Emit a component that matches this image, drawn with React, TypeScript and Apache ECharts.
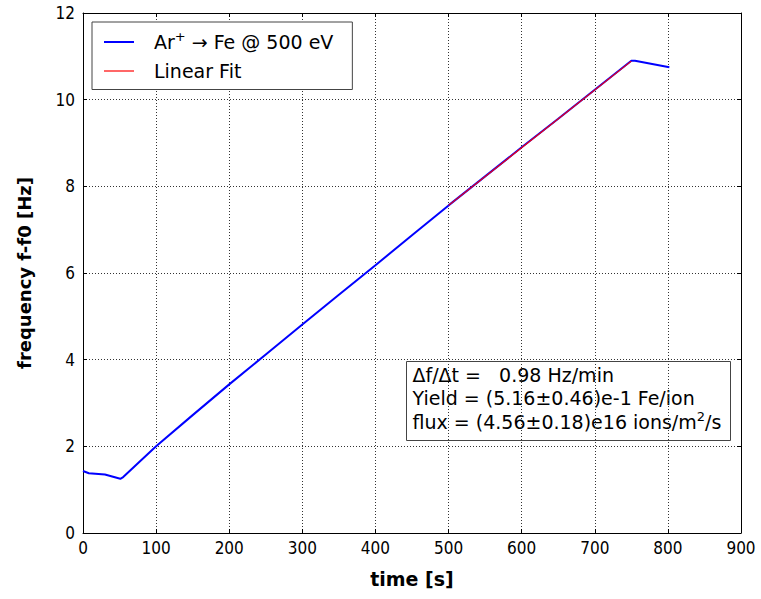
import React, { useEffect, useRef } from "react";
import * as echarts from "echarts";

const measuredTime = [0, 8, 30, 51, 55, 100, 150, 200, 250, 300, 350, 400, 450, 500, 550, 600, 650, 700, 750, 755, 802];
const measuredFreq = [1.43, 1.38, 1.35, 1.25, 1.29, 2.0, 2.72, 3.43, 4.12, 4.81, 5.5, 6.18, 6.87, 7.56, 8.23, 8.9, 9.56, 10.23, 10.9, 10.9, 10.75];
const fitTime = [500, 750];
const fitFreq = [7.56, 10.89];
const xTicks = { min: 0, max: 900, interval: 100 };
const yTicks = { min: 0, max: 12, interval: 2 };
const seriesNames = ["Ar+ → Fe @ 500 eV", "Linear Fit"];
const annotationLines = ["Δf/Δt =   0.98 Hz/min", "Yield = (5.16±0.46)e-1 Fe/ion", "flux = (4.56±0.18)e16 ions/m"];

const FONT = "'DejaVu Sans', Verdana, sans-serif";
const TICKFONT = "'DejaVu Sans Condensed', 'DejaVu Sans', sans-serif";

export default function App() {
  const ref = useRef<HTMLDivElement>(null);
  useEffect(() => {
    if (!ref.current) return;
    const chart = echarts.init(ref.current, null, { renderer: "svg" });
    const grid = "#444";
    const splitLine = { show: true, lineStyle: { color: "#333", type: [1, 2], width: 1 } };
    const tickLabel = { color: "#000", fontFamily: TICKFONT, fontSize: 17 };
    chart.setOption({
      animation: false,
      backgroundColor: "#fff",
      grid: { left: 83, right: 20, top: 13, bottom: 66, containLabel: false },
      xAxis: [
        {
          type: "value", ...xTicks,
          name: "time [s]", nameLocation: "middle", nameGap: 36,
          nameTextStyle: { fontFamily: FONT, fontWeight: "bold", fontSize: 19, color: "#000" },
          axisLine: { show: true, lineStyle: { color: "#000", width: 1 } },
          axisTick: { show: true, inside: true, length: 4, lineStyle: { color: "#000" } },
          axisLabel: { ...tickLabel, margin: 6 },
          splitLine,
        },
        {
          type: "value", ...xTicks, position: "top",
          axisLine: { show: true, onZero: false, lineStyle: { color: "#000", width: 1 } },
          axisTick: { show: true, inside: true, length: 4, lineStyle: { color: "#000" } },
          axisLabel: { show: false }, splitLine: { show: false },
        },
      ],
      yAxis: [
        {
          type: "value", ...yTicks,
          name: "frequency f-f0 [Hz]", nameLocation: "middle", nameGap: 50,
          nameTextStyle: { fontFamily: FONT, fontWeight: "bold", fontSize: 18, color: "#000" },
          axisLine: { show: true, lineStyle: { color: "#000", width: 1 } },
          axisTick: { show: true, inside: true, length: 4, lineStyle: { color: "#000" } },
          axisLabel: { ...tickLabel, margin: 8 },
          splitLine,
        },
        {
          type: "value", ...yTicks, position: "right",
          axisLine: { show: true, onZero: false, lineStyle: { color: "#000", width: 1 } },
          axisTick: { show: true, inside: true, length: 4, lineStyle: { color: "#000" } },
          axisLabel: { show: false }, splitLine: { show: false },
        },
      ],
      legend: {
        orient: "vertical",
        left: 92, top: 22,
        padding: [8, 19, 9, 12],
        itemGap: 10,
        itemWidth: 30,
        itemHeight: 14,
        backgroundColor: "#fff",
        borderColor: grid,
        borderWidth: 1,
        borderRadius: 0,
        data: [
          { name: seriesNames[0], icon: "path://M0,0M30,14M0,6H30V8H0Z" },
          { name: seriesNames[1], icon: "path://M0,0M30,14M0,6.4H30V7.6H0Z" },
        ],
        formatter: (name: string) =>
          name === seriesNames[0] ? "{t|Ar}{s|+}{t| → Fe @ 500 eV}" : "{t|" + name + "}",
        textStyle: {
          padding: [0, 0, 0, 15],
          color: "#000",
          fontFamily: FONT,
          fontSize: 19,
          rich: {
            t: { fontFamily: FONT, fontSize: 19, lineHeight: 24, color: "#000" },
            s: { fontFamily: FONT, fontSize: 13, lineHeight: 14, verticalAlign: "top", color: "#000" },
          },
        },
      },
      series: [
        {
          name: seriesNames[0], type: "line", symbol: "none",
          data: measuredTime.map((t, i) => [t, measuredFreq[i]]),
          lineStyle: { color: "#0000ff", width: 2 }, itemStyle: { color: "#0000ff" }, z: 2,
        },
        {
          name: seriesNames[1], type: "line", symbol: "none",
          data: fitTime.map((t, i) => [t, fitFreq[i]]),
          lineStyle: { color: "#ff0000", width: 1.2 }, itemStyle: { color: "#ff0000" }, z: 3,
        },
      ],
      graphic: [
        {
          type: "group", left: 406, top: 361, z: 100,
          children: [
            { type: "rect", shape: { x: 0, y: 0, width: 324, height: 79 }, style: { fill: "#fff", stroke: grid, lineWidth: 1 } },
            { type: "text", x: 6, y: 13, style: { text: annotationLines[0], font: "19px " + FONT, fill: "#000", verticalAlign: "middle" } },
            { type: "text", x: 6, y: 36, style: { text: annotationLines[1], font: "19px " + FONT, fill: "#000", verticalAlign: "middle" } },
            {
              type: "text", x: 6, y: 60,
              style: {
                text: "{a|" + annotationLines[2] + "}{b|2}{a|/s}",
                verticalAlign: "middle",
                rich: {
                  a: { fontFamily: FONT, fontSize: 19, lineHeight: 24, fill: "#000" },
                  b: { fontFamily: FONT, fontSize: 13, lineHeight: 14, verticalAlign: "top", fill: "#000" },
                },
              },
            },
          ],
        },
      ],
    });
    return () => chart.dispose();
  }, []);
  return <div ref={ref} style={{ width: 761, height: 599, position: "absolute", left: 0, top: 0 }} />;
}
